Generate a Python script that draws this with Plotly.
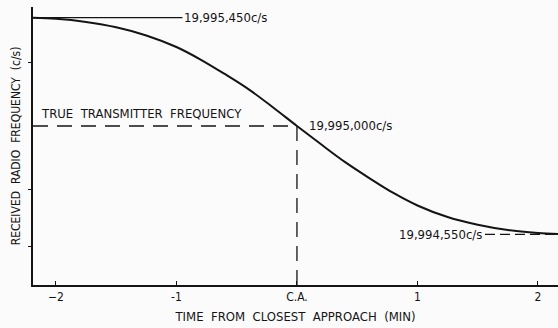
import plotly.graph_objects as go

# Time from closest approach (minutes) and received frequency (c/s)
time_min = [-2.19, -2.0, -1.75, -1.5, -1.25, -1.0, -0.8, -0.6, -0.4, -0.2, 0.0,
            0.2, 0.4, 0.6, 0.8, 1.0, 1.25, 1.5, 1.75, 2.0, 2.17]
freq_cs = [19995449, 19995445, 19995432, 19995410, 19995376, 19995328, 19995276,
           19995216, 19995152, 19995078, 19995000, 19994924, 19994850, 19994784,
           19994722, 19994670, 19994622, 19994590, 19994568, 19994556, 19994552]

f_high = 19995450
f_true = 19995000
f_low = 19994550
high_label = "19,995,450c/s"
true_label = "19,995,000c/s"
low_label = "19,994,550c/s"

x_ticks = [-2, -1, 0, 1, 2]
x_ticklabels = ["−2", "-1", "C.A.", "1", "2"]

x_range = [-2.19, 2.166]
y_range = [19994340, 19995494]

ink = "#141414"
font_family = "DejaVu Sans Condensed, DejaVu Sans, sans-serif"

fig = go.Figure()
fig.add_trace(go.Scatter(x=time_min, y=freq_cs, mode="lines",
                         line=dict(color=ink, width=2, shape="spline", smoothing=1.0),
                         showlegend=False, hoverinfo="skip"))

# Reference lines
fig.add_shape(type="line", xref="x", yref="y", x0=x_range[0], x1=-0.95,
              y0=f_high, y1=f_high, line=dict(color=ink, width=1.3))
fig.add_shape(type="line", xref="x", yref="y", x0=x_range[0], x1=0,
              y0=f_true, y1=f_true, line=dict(color=ink, width=1.3, dash="15px,9px"))
fig.add_shape(type="line", xref="x", yref="y", x0=0, x1=0,
              y0=y_range[0], y1=f_true, line=dict(color=ink, width=1.3, dash="15px,9px"))
fig.add_shape(type="line", xref="x", yref="y", x0=1.56, x1=x_range[1],
              y0=f_low, y1=f_low, line=dict(color=ink, width=1.3, dash="10px,5px"))

ann_font = dict(family=font_family, size=13, color=ink)
fig.add_annotation(x=-0.95, y=f_high, xref="x", yref="y", text=high_label,
                   showarrow=False, xanchor="left", yanchor="middle", font=ann_font)
fig.add_annotation(x=0.08, y=f_true, xref="x", yref="y", text=true_label,
                   showarrow=False, xanchor="left", yanchor="bottom", yshift=-9, font=ann_font)
fig.add_annotation(x=1.55, y=f_low, xref="x", yref="y", text=low_label,
                   showarrow=False, xanchor="right", yanchor="middle", font=ann_font)
fig.add_annotation(x=-2.14, y=f_true, xref="x", yref="y", text="TRUE  TRANSMITTER  FREQUENCY",
                   showarrow=False, xanchor="left", yanchor="bottom", yshift=3, font=ann_font)

fig.update_layout(
    width=558, height=328,
    margin=dict(l=33, r=0, t=7, b=43),
    paper_bgcolor="#fbfbfb", plot_bgcolor="#fbfbfb",
    font=dict(family=font_family, size=13, color=ink),
    xaxis=dict(range=x_range, showgrid=False, zeroline=False,
               showline=True, linecolor=ink, linewidth=1.5,
               tickmode="array", tickvals=x_ticks, ticktext=x_ticklabels,
               ticks="inside", ticklen=4, tickwidth=1, tickcolor=ink,
               tickfont=dict(size=12),
               title=dict(text="TIME  FROM  CLOSEST  APPROACH  (MIN)", standoff=9,
                          font=dict(size=13))),
    yaxis=dict(range=y_range, showgrid=False, zeroline=False,
               showline=True, linecolor=ink, linewidth=1.5,
               showticklabels=False,
               tickmode="array", tickvals=[19995265, 19994735, 19994500],
               ticks="outside", ticklen=3, tickwidth=1, tickcolor=ink,
               title=dict(text="RECEIVED  RADIO  FREQUENCY  (c/s)", standoff=5,
                          font=dict(size=12))),
)

fig.write_html("out.html")
